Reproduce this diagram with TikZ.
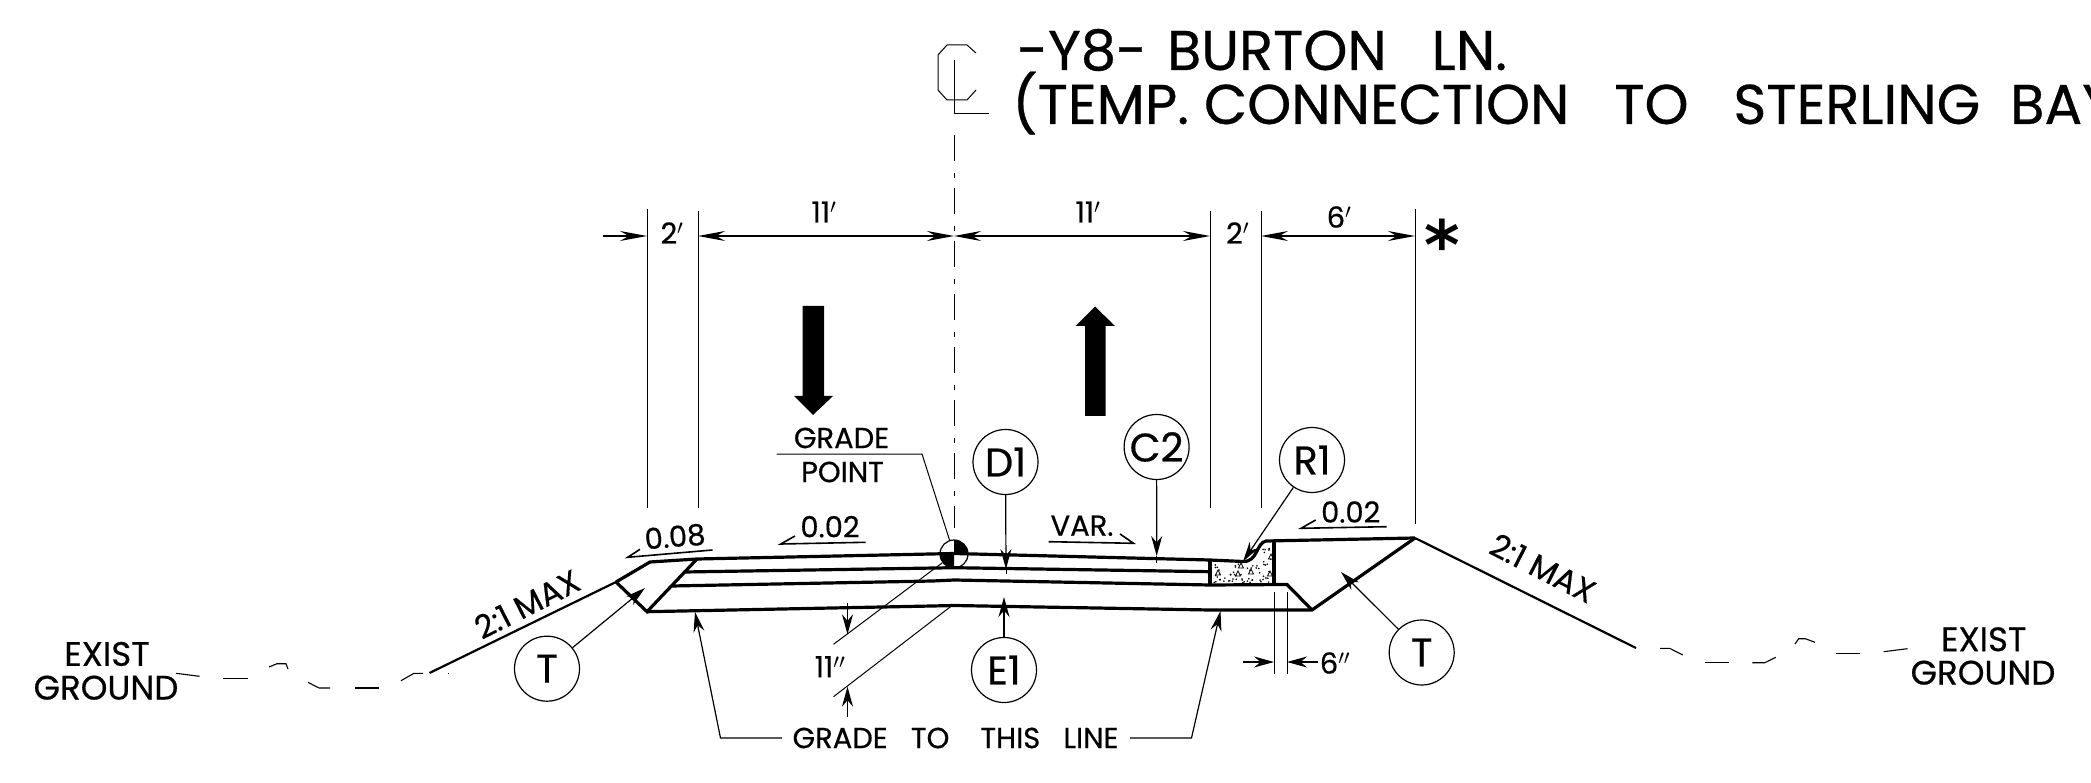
\documentclass[tikz,border=0pt]{standalone}
\usepackage{fontspec}
\setmainfont[FakeBold=0.5]{Poppins}
\newfontfamily\starfont{DejaVu Sans}
\usetikzlibrary{arrows.meta}
\usetikzlibrary{calc}

\tikzset{
	plain/.style={inner sep=0pt,outer sep=0pt,font=\fontsize{29}{29}\selectfont},
	wide/.style={inner sep=0pt,outer sep=0pt,font=\fontsize{34}{34}\selectfont},
	title/.style={inner sep=0pt,anchor=west,font=\fontsize{56}{56}\selectfont},
	balloon/.style={draw,circle,line width=1.2pt,minimum size=65pt,inner sep=0pt,fill=white,font=\fontsize{40}{40}\selectfont},
	surface/.style={line width=3.2pt,line join=miter},
	slope/.style={line width=2.2pt},
	thin line/.style={line width=1pt},
	dimarrow/.style={line width=1.3pt,-{Stealth[length=27pt,width=10pt]}},
	dimboth/.style={line width=1.3pt,{Stealth[length=27pt,width=10pt]}-{Stealth[length=27pt,width=10pt]}},
	callout/.style={line width=1.2pt,-{Stealth[length=20pt,width=11pt]}},
	ground/.style={line width=1.1pt},
	big arrow/.style={fill=black,draw=none}
}

\begin{document}
\begin{tikzpicture}[x=1pt,y=-1pt]

	\useasboundingbox (0,0) rectangle (2091,783);

	% definitions
	\def\clx{954}
	\def\dimy{236}

	% define points of the section
	\coordinate (slopeL) at (429.5,673);
	\coordinate (shL) at (650,562);
	\coordinate (tickL) at (616,582);
	\coordinate (edgeL) at (697,559);
	\coordinate (crown) at (\clx,553.5);
	\coordinate (gutter) at (1210,560);
	\coordinate (flow) at (1243,561.5);
	\coordinate (curbT) at (1266,541);
	\coordinate (hinge) at (1415,538);
	\coordinate (slopeR) at (1636,648);
	\coordinate (subL) at (647,611.7);
	\coordinate (subC) at (\clx,605.5);
	\coordinate (subR) at (1312,610);
	\coordinate (stoneR) at (1287,584.5);
	\coordinate (baseL) at (671.4,586);
	\coordinate (baseC) at (\clx,580);
	\coordinate (baseR) at (1210,585);
	\coordinate (binL) at (684,572);
	\coordinate (binC) at (\clx,567.7);
	\coordinate (binR) at (1210,571.7);

	% ground
	\draw[ground] (176,673.3) -- (199.5,676.3);
	\draw[ground] (223,678.3) -- (248,678.3);
	\draw[ground] (269,667) -- (277,663.7) -- (286,663.7) -- (288,669);
	\draw[ground] (308,682.3) -- (319,688) -- (330,688);
	\draw[ground] (355,688) -- (378.6,688);
	\draw[ground] (401,680.7) -- (414,673.3) -- (423,673.3);
	\draw[ground] (447.5,673.3) -- (449,673.3);
	\draw[ground] (1660,648.3) -- (1669.6,648.3) -- (1682.8,655);
	\draw[ground] (1704.8,662.7) -- (1729,662.7);
	\draw[ground] (1752.4,662.7) -- (1764.8,662.7) -- (1775.8,657.3);
	\draw[ground] (1795,644) -- (1798.7,638.7) -- (1805.3,638.7) -- (1815,642.3);
	\draw[ground] (1836,653.3) -- (1860,653.3);
	\draw[ground] (1883.7,651.7) -- (1907.5,648.7);

	% stipple of the curb
	\pgfmathsetseed{12}
	\foreach \i in {1,...,55}{
		\pgfmathsetmacro{\dotx}{1213+58*rnd}
		\pgfmathsetmacro{\doty}{564+19*rnd}
		\fill (\dotx,\doty) circle (0.9);
	}
	\foreach \i in {1,...,8}{
		\pgfmathsetmacro{\dotx}{1263+8*rnd}
		\pgfmathsetmacro{\doty}{546+16*rnd}
		\fill (\dotx,\doty) circle (0.9);
	}
	\foreach \tx/\ty in {1218/573,1238/574,1251/572,1271/557,1270/574,1241/566}{
		\draw[line width=0.8pt] (\tx,\ty-3) -- ++(2.5,5) -- ++(-5,0) -- cycle;
	}

	% section outlines
	\draw[slope] (slopeL) -- (tickL);
	\draw[surface] (tickL) -- (shL) -- (edgeL) -- (crown) -- (gutter) -- (flow) .. controls (1258,562) and (1256,543) .. (curbT) -- (hinge);
	\draw[surface] (edgeL) -- (subL) -- (tickL);
	\draw[surface] (subL) -- (932,606) -- (subC) -- (1210,610) -- (subR) -- (hinge);
	\draw[surface] (baseL) -- (932.6,581) -- (baseC) -- (baseR) -- (stoneR) -- (subR);
	\draw[surface] (binL) -- (binC) -- (binR);
	\draw[surface] (gutter) -- (baseR);
	\draw[surface] (1274,541) -- (1274,584.5);
	\draw[slope] (hinge) -- (slopeR);

	% grade point
	\fill (\clx,554) -- ++(14,0) arc[start angle=0,end angle=-90,radius=14] -- cycle;
	\fill (\clx,554) -- ++(-14,0) arc[start angle=180,end angle=90,radius=14] -- cycle;
	\node[draw,circle,line width=1.2pt,minimum size=28pt,inner sep=0pt] (gp) at (\clx,554) {};

	% centerline
	\draw[thin line] (947,45) -- (967,45) -- (976,53);
	\draw[thin line] (947,45) -- (938,55) -- (938,90) -- (947,100) -- (967,100) -- (976,90);
	\draw[thin line] (\clx,60) -- (\clx,114) -- (989,114);
	\draw[thin line,dash pattern=on 26pt off 12pt on 5pt off 10pt] (\clx,135) -- (\clx,528);

	% extension lines
	\foreach \x/\ya/\yb in {647/209/508,698/211/508,1210/211/508,1261/211/508,1415/209/524}{
		\draw[thin line] (\x,\ya) -- (\x,\yb);
	}
	\draw[thin line] (1274,592) -- (1274,674);
	\draw[thin line] (1287,592) -- (1287,674);

	% dimensions
	\coordinate (dimStart) at (603,\dimy);
	\coordinate (dimA) at (647,\dimy);
	\coordinate (dimB) at (698,\dimy);
	\coordinate (dimC) at (\clx,\dimy);
	\coordinate (dimD) at (1210,\dimy);
	\coordinate (dimE) at (1261,\dimy);
	\coordinate (dimF) at (1415,\dimy);
	\draw[dimarrow] (dimStart) -- (dimA);
	\draw[dimboth] (dimB) -- (dimC);
	\draw[dimboth] (dimC) -- (dimD);
	\draw[dimboth] (dimE) -- (dimF);
	\node[plain] (dimOne) at (672,233) {2$'$};
	\node[plain] (dimTwo) at (824,212) {11$'$};
	\node[plain] (dimThree) at (1088,212) {11$'$};
	\node[plain] (dimFour) at (1237.5,233) {2$'$};
	\node[plain] (dimFive) at (1339,217) {6$'$};
	\node[inner sep=0pt,font=\starfont\bfseries\fontsize{68}{68}\selectfont] (star) at (1442.5,244) {*};

	% direction arrows
	\fill[big arrow] (802.5,306) -- (824,306) -- (824,396) -- (833,396) -- (813,415) -- (794,396) -- (802.5,396) -- cycle;
	\fill[big arrow] (1085,416) -- (1105.5,416) -- (1105.5,326) -- (1115,326) -- (1095,306.5) -- (1075.5,326) -- (1085,326) -- cycle;

	% title
	\node[title] (titleA) at (1017,50) {-Y8-\hspace{20pt}BURTON\ \ \ LN.};
	\node[title] (titleB) at (1012,103) {(TEMP.\ CONNECTION\ \ \ TO\ \ \ STERLING\ \ BAY};

	% grade point label
	\node[plain] (gradeTxt) at (841.5,438) {GRADE};
	\node[plain] (pointTxt) at (842.5,472) {POINT};
	\coordinate (gpA) at (776.6,454);
	\coordinate (gpB) at (922,454);
	\draw[thin line] (gpA) -- (gpB) -- (gp);

	% slopes
	\node[plain] (slopeA) at (675,536.7) [rotate=5] {0.08};
	\draw[line width=1.6pt] (640,549.3) -- (627.7,557.3) -- (712.5,550);
	\node[plain] (slopeB) at (830,526.7) {0.02};
	\draw[line width=1.6pt] (795,536) -- (780.8,544) -- (865.6,542.3);
	\node[plain] (slopeC) at (1082,525.7) {VAR.};
	\draw[line width=1.6pt] (1120,534) -- (1133.5,543.3) -- (1048.7,541.7);
	\node[plain] (slopeD) at (1350.7,512) {0.02};
	\draw[line width=1.6pt] (1315.7,520) -- (1301,528.3) -- (1386.7,526.7);
	\node[plain,font=\fontsize{32}{32}\selectfont,rotate=27] (maxL) at (527,604) {2:1\ MAX};
	\node[plain,font=\fontsize{32}{32}\selectfont,rotate=-27] (maxR) at (1543,568) {2:1\ MAX};

	% balloons
	\node[balloon] (tL) at (547,668.7) {T};
	\node[balloon] (d1) at (1005.5,462) {D1};
	\node[balloon] (c2) at (1156.6,447) {C2};
	\node[balloon] (r1) at (1312,460) {R1};
	\node[balloon] (e1) at (1004,670) {E1};
	\node[balloon] (tR) at (1421.7,652.5) {T};

	% callouts
	\coordinate (d1tip) at (1006,569);
	\coordinate (c2tip) at (1156.7,556);
	\coordinate (e1tip) at (1004,597);
	\draw[callout] (d1) -- (d1tip);
	\draw[thin line] (d1tip) -- (1006,574);
	\draw[callout] (c2) -- (c2tip);
	\draw[thin line] (c2tip) -- (1156.7,563);
	\draw[callout] (e1) -- (e1tip);
	\draw[callout] (r1) -- (flow);
	\coordinate (tLtip) at (645,588);
	\coordinate (tRtip) at (1341,572);
	\draw[callout] (tL) -- (tLtip);
	\draw[callout] (tR) -- (tRtip);

	% eleven inches
	\coordinate (pavA) at (833.5,644.3);
	\coordinate (pavB) at (833.5,696.7);
	\coordinate (pavC) at (952.7,605);
	\coordinate (pavTop) at (847.5,603);
	\coordinate (pavTopTip) at (847.5,634.3);
	\coordinate (pavLow) at (847.5,717);
	\coordinate (pavLowTip) at (847.5,686.7);
	\draw[thin line] (pavA) -- (gp);
	\draw[thin line] (pavB) -- (pavC);
	\draw[callout] (pavTop) -- (pavTopTip);
	\draw[callout] (pavLow) -- (pavLowTip);
	\node[plain] (pavTxt) at (830,666.7) {11$''$};

	% six inches
	\coordinate (curbA) at (1243.3,662);
	\coordinate (curbB) at (1274,662);
	\coordinate (curbC) at (1318,662);
	\coordinate (curbD) at (1287,662);
	\draw[callout] (curbA) -- (curbB);
	\draw[callout] (curbC) -- (curbD);
	\node[plain] (curbTxt) at (1335,663) {6$''$};

	% grade to this line
	\node[plain] (gradeLine) at (955.5,738) {GRADE\ \ \ TO\ \ \ \ THIS\ \ \ LINE};
	\coordinate (gradeLa) at (782,738);
	\coordinate (gradeLb) at (720.5,738);
	\coordinate (gradeLc) at (695,612);
	\coordinate (gradeRa) at (1130,738);
	\coordinate (gradeRb) at (1191.5,738);
	\coordinate (gradeRc) at (1220.5,611);
	\draw[callout] (gradeLa) -- (gradeLb) -- (gradeLc);
	\draw[callout] (gradeRa) -- (gradeRb) -- (gradeRc);

	% exist ground
	\node[wide] (existL) at (107,654) {EXIST};
	\node[wide] (groundL) at (106,687.7) {GROUND};
	\node[wide] (existR) at (1983.7,639.3) {EXIST};
	\node[wide] (groundR) at (1983,672.7) {GROUND};

\end{tikzpicture}
\end{document}
